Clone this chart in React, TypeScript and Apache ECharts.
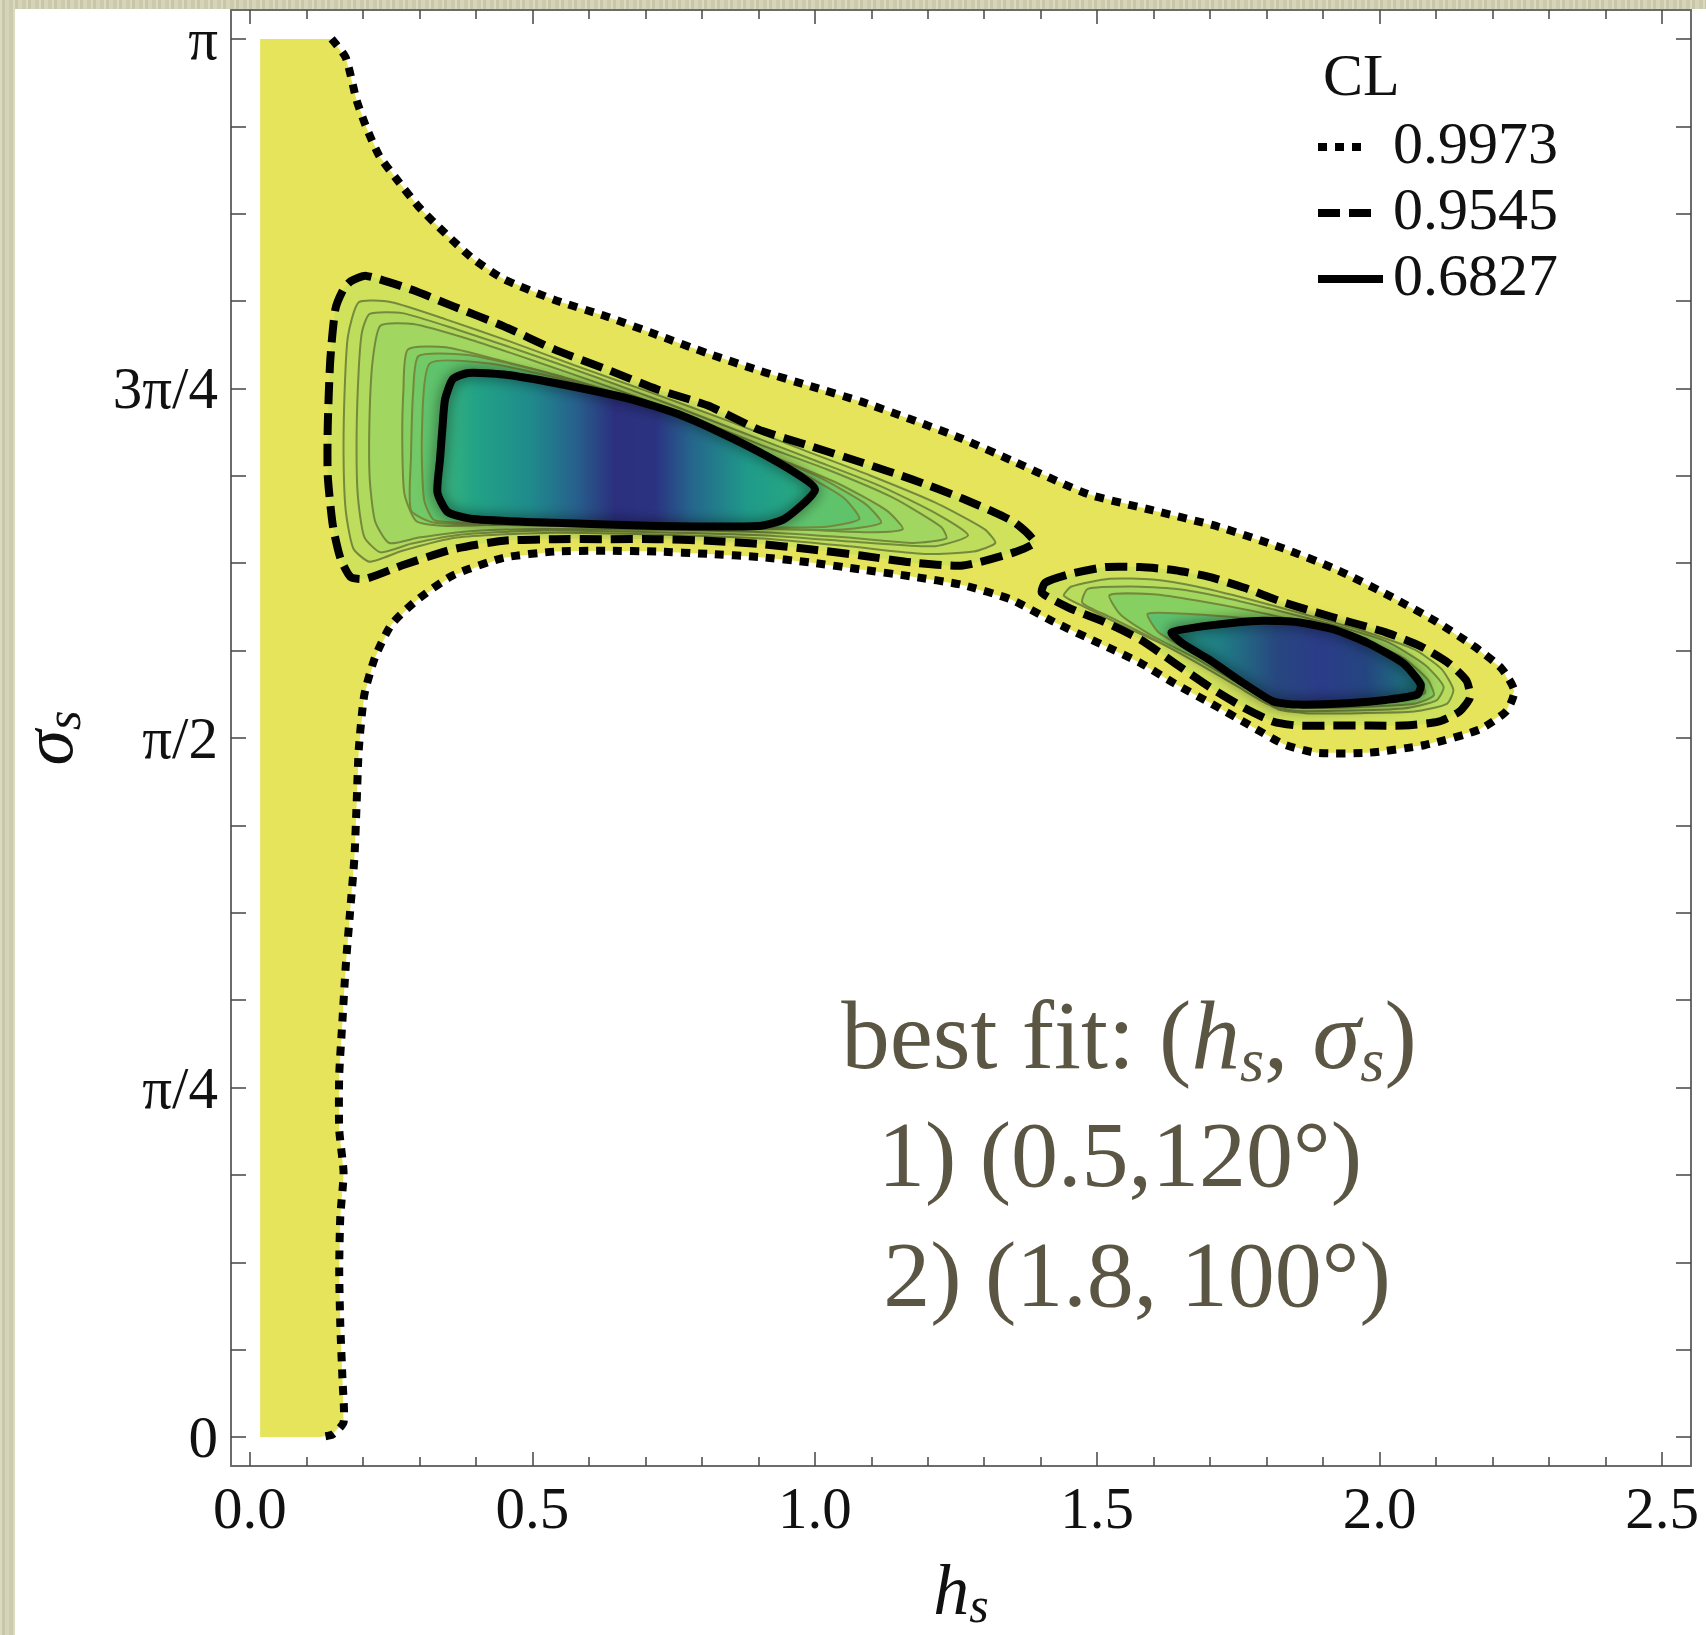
import React, { useEffect, useRef } from 'react';
import * as echarts from 'echarts';

// ---------- axes ----------
const xRange = [-0.0336, 2.5513];
const yRange = [-3.726, 183.726]; // degrees
const xMajorTicks = [0, 0.5, 1.0, 1.5, 2.0, 2.5];
const xMinorTicks = [0.1, 0.2, 0.3, 0.4, 0.6, 0.7, 0.8, 0.9, 1.1, 1.2, 1.3, 1.4, 1.6, 1.7, 1.8, 1.9, 2.1, 2.2, 2.3, 2.4];
const yTickValues = [0, 11.25, 22.5, 33.75, 45, 56.25, 67.5, 78.75, 90, 101.25, 112.5, 123.75, 135, 146.25, 157.5, 168.75, 180];
const yLabelValues = [0, 45, 90, 135, 180];
const yLabelTexts = ['0', 'π/4', 'π/2', '3π/4', 'π'];
const clLevels = ['0.9973', '0.9545', '0.6827'];
const legendTitle = 'CL';
const bestFitTitle = 'best fit: ({i|h}{sub|s}, {i|σ}{sub|s})';
const bestFit1 = '1) (0.5,120°)';
const bestFit2 = '2) (1.8, 100°)';

// ---------- contours: [h_s, sigma_s in degrees] ----------
const domainTop = [0.018, 180];
const domainBottom = [0.018, 0];

const contour9973 = [
  [0.1445, 180], [0.1695, 177.6], [0.1888, 172.1], [0.2061, 168.6], [0.2292, 164.9], [0.2601, 161.9],
  [0.2986, 158.4], [0.3467, 154.9], [0.3949, 151.7], [0.4488, 149.1], [0.5394, 146.4], [0.6299, 144.3],
  [0.7205, 141.9], [0.811, 139.5], [0.9015, 137.3], [0.9921, 135.3], [1.0826, 133.3], [1.1712, 131.0],
  [1.2618, 128.5], [1.3523, 125.6], [1.4833, 121.4], [1.5989, 119.3], [1.7145, 117.2], [1.8301, 114.4],
  [1.9264, 111.6], [2.0227, 108.1], [2.0998, 105.0], [2.1672, 101.8], [2.2153, 99.0], [2.2385, 96.1],
  [2.225, 93.5], [2.1769, 91.1], [2.0805, 89.1], [1.9803, 88.1], [1.8879, 88.1], [1.8301, 89.2],
  [1.7684, 91.7], [1.7029, 94.4], [1.6374, 97.0], [1.5758, 99.7], [1.5122, 101.9], [1.4217, 105.0],
  [1.3485, 107.8], [1.2618, 109.7], [1.1712, 110.8], [1.0807, 111.7], [0.9921, 112.6], [0.9015, 113.3],
  [0.811, 113.7], [0.7205, 114.0], [0.6299, 114.1], [0.5394, 114.0], [0.4488, 113.2], [0.3583, 110.9],
  [0.2947, 107.7], [0.2504, 104.6], [0.2215, 100.4], [0.2023, 95.5], [0.1926, 88.5], [0.1888, 81.5],
  [0.1849, 74.6], [0.1772, 67.6], [0.1695, 60.6], [0.1637, 53.6], [0.158, 46.6], [0.158, 39.6],
  [0.1657, 34.0], [0.1599, 28.4], [0.158, 21.5], [0.1599, 14.5], [0.1637, 7.5], [0.1657, 1.9],
  [0.1464, 0.35], [0.1252, 0]
];

const contour9545a = [
  [0.1784, 148.8], [0.2055, 149.5], [0.2868, 147.7], [0.3591, 145.6], [0.4494, 143.0], [0.5398, 140.0],
  [0.6301, 137.5], [0.7205, 134.9], [0.8106, 132.8], [0.901, 129.7], [0.9913, 127.6], [1.0817, 125.5],
  [1.172, 123.3], [1.2624, 120.8], [1.3527, 117.8], [1.389, 115.2], [1.3527, 113.9], [1.2624, 112.2],
  [1.172, 112.6], [1.0817, 113.5], [0.9913, 114.3], [0.901, 115.0], [0.8106, 115.4], [0.7205, 115.6],
  [0.6301, 115.6], [0.5398, 115.6], [0.4494, 115.4], [0.3591, 114.3], [0.2687, 112.2], [0.2055, 110.5],
  [0.1784, 110.7], [0.1603, 113.1], [0.1468, 117.3], [0.1377, 123.8], [0.1377, 130.2], [0.1422, 138.7],
  [0.1512, 145.2], [0.1649, 147.7]
];
const blob1Ring1 = [
  [0.1926, 146.1], [0.2504, 146.1], [0.3468, 143.9], [0.4623, 141.0], [0.5779, 137.9], [0.7128, 134.4],
  [0.8476, 130.8], [0.9825, 127.0], [1.098, 123.8], [1.2136, 120.3], [1.3003, 116.9], [1.3196, 115.1],
  [1.2811, 114.0], [1.1944, 113.7], [1.0595, 114.7], [0.9054, 115.7], [0.7128, 116.2], [0.5201, 116.4],
  [0.366, 115.8], [0.2697, 114.1], [0.2119, 112.7], [0.183, 114.4], [0.1695, 119.3], [0.1657, 126.3],
  [0.1676, 134.7], [0.1734, 141.7]
];
const blob1Ring1b = [
  [0.2119, 144.6], [0.2697, 144.7], [0.366, 142.6], [0.4816, 139.8], [0.6068, 136.6], [0.7417, 133.0],
  [0.8765, 129.2], [1.0017, 125.7], [1.1173, 122.4], [1.2175, 118.8], [1.2714, 116.1], [1.2136, 114.7],
  [1.098, 115.1], [0.9054, 116.1], [0.7128, 116.5], [0.5201, 116.7], [0.3756, 116.2], [0.2851, 115.0],
  [0.2312, 113.9], [0.2023, 115.9], [0.1907, 121.4], [0.1888, 129.1], [0.1926, 137.5], [0.1984, 142.3]
];
const blob1Ring2 = [
  [0.2312, 143.1], [0.289, 143.3], [0.3853, 141.4], [0.5009, 138.6], [0.6357, 135.2], [0.7706, 131.6],
  [0.9054, 127.7], [1.021, 124.6], [1.1366, 121.0], [1.2233, 117.2], [1.2329, 115.7], [1.1751, 115.1],
  [1.0595, 115.8], [0.9054, 116.5], [0.7128, 116.8], [0.5201, 116.9], [0.3853, 116.6], [0.2986, 115.8],
  [0.2466, 115.1], [0.2215, 117.9], [0.2119, 123.5], [0.2119, 131.9], [0.2177, 138.9]
];
const blob1Ring3 = [
  [0.2793, 140.0], [0.3468, 140.3], [0.4431, 138.6], [0.5587, 136.4], [0.6935, 133.3], [0.8091, 129.9],
  [0.9247, 126.3], [1.0403, 122.8], [1.1269, 119.3], [1.1558, 116.9], [1.098, 116.5], [0.9825, 116.8],
  [0.8091, 117.1], [0.6357, 117.3], [0.4623, 117.5], [0.3468, 117.3], [0.2947, 117.9], [0.2735, 121.4],
  [0.2697, 127.7], [0.2716, 134.7]
];
const blob1Ring3b = [
  [0.2986, 139.2], [0.3853, 139.3], [0.5009, 137.5], [0.6261, 134.8], [0.7513, 131.6], [0.8861, 127.4],
  [1.0017, 123.8], [1.0884, 120.2], [1.1173, 117.7], [1.0403, 116.8], [0.9054, 117.0], [0.7128, 117.1],
  [0.4816, 117.4], [0.3275, 117.7], [0.2851, 119.3], [0.2851, 126.3], [0.289, 134.7]
];
const blob1Ring4 = [
  [0.3179, 138.2], [0.4238, 138.2], [0.5587, 136.1], [0.7128, 132.6], [0.8476, 128.4], [0.9632, 124.6],
  [1.0499, 121.0], [1.0788, 118.2], [1.021, 117.2], [0.9054, 117.1], [0.7128, 117.2], [0.4816, 117.6],
  [0.3275, 118.0], [0.3082, 120.7], [0.3044, 129.1]
];
const contour6827a = [
  [0.3865, 137.0], [0.4494, 136.8], [0.5398, 135.7], [0.6752, 133.6], [0.7655, 131.5], [0.8559, 128.5],
  [0.9462, 125.0], [1.0004, 122.0], [0.9462, 118.2], [0.901, 117.3], [0.7205, 117.3], [0.5398, 117.7],
  [0.3951, 118.2], [0.35, 119.1], [0.3319, 121.6], [0.3365, 125.9], [0.341, 130.2], [0.3454, 133.6],
  [0.3591, 136.2]
];

const contour9545b = [
  [1.4082, 110.0], [1.4517, 111.1], [1.5138, 112.0], [1.5758, 112.0], [1.638, 111.6], [1.7003, 110.7],
  [1.7623, 109.3], [1.8243, 107.6], [1.8865, 106.2], [1.9487, 104.9], [2.0108, 103.6], [2.0728, 101.8],
  [2.1227, 99.6], [2.1537, 97.4], [2.1599, 95.2], [2.1412, 93.4], [2.104, 92.1], [2.042, 91.6],
  [1.9798, 91.6], [1.9177, 91.6], [1.8555, 91.6], [1.812, 92.1], [1.7623, 93.8], [1.7003, 96.5],
  [1.638, 99.6], [1.5758, 102.7], [1.5138, 104.9], [1.4517, 106.7], [1.402, 108.7]
];
const blob2Ring1 = [
  [1.441, 108.3], [1.4544, 109.5], [1.5219, 110.5], [1.5989, 110.4], [1.676, 109.5], [1.7723, 107.8],
  [1.8686, 105.9], [1.9649, 103.9], [2.0612, 101.4], [2.1094, 98.9], [2.1306, 96.2], [2.119, 94.4],
  [2.0612, 93.4], [1.9649, 93.2], [1.8686, 93.2], [1.8204, 93.7], [1.7627, 96.1], [1.6952, 99.0],
  [1.6182, 102.0], [1.5411, 104.6], [1.4737, 107.0]
];
const blob2Ring1b = [
  [1.4833, 109.2], [1.5604, 109.5], [1.6374, 109.2], [1.7241, 108.1], [1.8204, 106.4], [1.9168, 104.6],
  [2.0131, 102.4], [2.0805, 99.4], [2.1133, 96.6], [2.0998, 94.8], [2.042, 93.8], [1.9264, 93.5],
  [1.8493, 93.5], [1.8012, 94.4], [1.7492, 96.6], [1.676, 99.7], [1.5989, 102.8], [1.5219, 105.6],
  [1.4737, 107.4]
];
const blob2Ring2 = [
  [1.5219, 108.4], [1.5989, 108.5], [1.676, 107.7], [1.7723, 106.4], [1.8686, 104.8], [1.9649, 102.8],
  [2.042, 100.3], [2.0844, 97.6], [2.0959, 95.5], [2.0612, 94.4], [1.9649, 94.0], [1.8686, 93.9],
  [1.8108, 94.7], [1.753, 96.9], [1.676, 100.2], [1.5989, 103.1], [1.5411, 105.9]
];
const blob2Ring3 = [
  [1.5893, 106.0], [1.6567, 106.0], [1.7338, 105.6], [1.8301, 104.9], [1.9264, 103.5], [2.0131, 101.1],
  [2.0612, 98.3], [2.0805, 95.8], [2.0227, 94.7], [1.8686, 94.1], [1.8012, 94.8], [1.7434, 97.6],
  [1.6664, 101.1], [1.6086, 103.6]
];
const contour6827b = [
  [1.6319, 103.6], [1.7003, 104.5], [1.7935, 105.1], [1.8555, 104.9], [1.9177, 104.0], [1.9798, 102.2],
  [2.042, 99.6], [2.0728, 96.9], [2.0668, 95.6], [2.0108, 94.9], [1.9487, 94.5], [1.8555, 94.3],
  [1.812, 94.7], [1.7623, 96.9], [1.7003, 100.0], [1.6505, 102.2]
];

// ---------- styles ----------
const SERIF = '"Liberation Serif", "Times New Roman", serif';
const YELLOW = '#e6e45b';
const OLIVE = '#74893b';
const ANNOT = '#5b5543';
const DOTTED = [9, 8];
const DASHED = [22, 9];

function shapeSeries(pts: number[][], kind: 'polygon' | 'polyline', style: any, z: number, smooth = 0.2) {
  return {
    type: 'custom',
    coordinateSystem: 'cartesian2d',
    xAxisIndex: 0,
    yAxisIndex: 0,
    silent: true,
    z,
    data: pts,
    renderItem: (params: any, api: any) => {
      if (params.dataIndex !== 0) return null;
      return {
        type: kind,
        shape: { points: pts.map((p) => api.coord(p)), smooth },
        style,
      };
    },
  };
}

function xAxisDef(position: string, major: boolean, withLabels: boolean, showLine: boolean) {
  return {
    type: 'value',
    position,
    min: xRange[0],
    max: xRange[1],
    splitLine: { show: false },
    axisLine: { show: showLine, onZero: false, lineStyle: { color: '#6c6c6c', width: 2 } },
    axisTick: {
      show: true,
      inside: true,
      length: major ? 14 : 9,
      customValues: major ? xMajorTicks : xMinorTicks,
      lineStyle: { color: '#444', width: 1.5 },
    },
    axisLabel: withLabels
      ? {
          show: true,
          customValues: xMajorTicks,
          formatter: (v: number) => v.toFixed(1),
          margin: 12,
          fontFamily: SERIF,
          fontSize: 59,
          color: '#111',
        }
      : { show: false },
  };
}

function yAxisDef(position: string, withLabels: boolean) {
  return {
    type: 'value',
    position,
    min: yRange[0],
    max: yRange[1],
    splitLine: { show: false },
    axisLine: { show: true, onZero: false, lineStyle: { color: '#6c6c6c', width: 2 } },
    axisTick: {
      show: true,
      inside: true,
      length: 15,
      customValues: yTickValues,
      lineStyle: { color: '#444', width: 1.5 },
    },
    axisLabel: withLabels
      ? {
          show: true,
          customValues: yLabelValues,
          formatter: (v: number) => {
            const i = yLabelValues.findIndex((t) => Math.abs(t - v) < 1e-6);
            return i >= 0 ? yLabelTexts[i] : '';
          },
          margin: 13,
          fontFamily: SERIF,
          fontSize: 59,
          color: '#111',
        }
      : { show: false },
  };
}

export default function App() {
  const ref = useRef<HTMLDivElement>(null);

  useEffect(() => {
    if (!ref.current) return;
    const chart = echarts.init(ref.current, null, { renderer: 'svg' });

    const grad1 = new echarts.graphic.LinearGradient(0, 0, 1, 0, [
      { offset: 0, color: '#3db57a' },
      { offset: 0.1, color: '#22a386' },
      { offset: 0.25, color: '#1f8a8c' },
      { offset: 0.37, color: '#275f8c' },
      { offset: 0.47, color: '#2b2f7e' },
      { offset: 0.58, color: '#2b3482' },
      { offset: 0.67, color: '#25648c' },
      { offset: 0.82, color: '#1f9a8a' },
      { offset: 1, color: '#2aae80' },
    ]);
    const grad2 = new echarts.graphic.LinearGradient(0, 0, 1, 0, [
      { offset: 0, color: '#279a84' },
      { offset: 0.2, color: '#1f7d86' },
      { offset: 0.42, color: '#27477f' },
      { offset: 0.6, color: '#2b3b88' },
      { offset: 0.78, color: '#244580' },
      { offset: 0.92, color: '#1f6a80' },
      { offset: 1, color: '#1e7f82' },
    ]);

    const ringStyle = (fill: string) => ({ fill, stroke: OLIVE, lineWidth: 2 });
    const yellowRegion = [domainTop, ...contour9973, domainBottom];

    const series = [
      shapeSeries(yellowRegion, 'polygon', { fill: YELLOW, stroke: null }, 1, 0),
      shapeSeries(contour9545a, 'polygon', { fill: '#d0e15c', stroke: null }, 2),
      shapeSeries(blob1Ring1, 'polygon', ringStyle('#bfdd5d'), 3),
      shapeSeries(blob1Ring1b, 'polygon', ringStyle('#b0da5e'), 3),
      shapeSeries(blob1Ring2, 'polygon', ringStyle('#a1d760'), 3),
      shapeSeries(blob1Ring3, 'polygon', ringStyle('#86d063'), 3),
      shapeSeries(blob1Ring3b, 'polygon', ringStyle('#72c967'), 3),
      shapeSeries(blob1Ring4, 'polygon', ringStyle('#5fc36c'), 3),
      shapeSeries(contour6827a, 'polygon', { fill: grad1, stroke: null }, 4),
      shapeSeries(contour9545b, 'polygon', { fill: '#cfe05c', stroke: null }, 2),
      shapeSeries(blob2Ring1, 'polygon', ringStyle('#b8dc5d'), 3),
      shapeSeries(blob2Ring1b, 'polygon', ringStyle('#a2d75f'), 3),
      shapeSeries(blob2Ring2, 'polygon', ringStyle('#86d062'), 3),
      shapeSeries(blob2Ring3, 'polygon', ringStyle('#5ec16d'), 3),
      shapeSeries(contour6827b, 'polygon', { fill: grad2, stroke: null }, 4),
      shapeSeries(contour9973, 'polyline', { fill: null, stroke: '#000', lineWidth: 8, lineDash: DOTTED, lineCap: 'butt' }, 10, 0.2),
      shapeSeries(contour9545a, 'polygon', { fill: null, stroke: '#000', lineWidth: 8, lineDash: DASHED }, 10),
      shapeSeries(contour9545b, 'polygon', { fill: null, stroke: '#000', lineWidth: 8, lineDash: DASHED }, 10),
      shapeSeries(contour6827a, 'polygon', { fill: null, stroke: '#000', lineWidth: 8, shadowBlur: 14, shadowColor: 'rgba(0,0,0,0.6)' }, 10),
      shapeSeries(contour6827b, 'polygon', { fill: null, stroke: '#000', lineWidth: 8, shadowBlur: 14, shadowColor: 'rgba(0,0,0,0.6)' }, 10),
    ];

    const legendY = [147, 213, 279];
    const legendDash = [DOTTED, DASHED, null];
    const legendEnd = [1368, 1373, 1383];

    const graphic: any[] = [
      {
        type: 'text', x: 1323, y: 75, z: 50,
        style: { text: legendTitle, fontFamily: SERIF, fontSize: 60, fill: '#111', verticalAlign: 'middle' },
      },
    ];
    clLevels.forEach((lab, i) => {
      graphic.push({
        type: 'line', z: 50,
        shape: { x1: 1318, y1: legendY[i], x2: legendEnd[i], y2: legendY[i] },
        style: { stroke: '#000', lineWidth: 8, lineDash: legendDash[i] || undefined },
      });
      graphic.push({
        type: 'text', x: 1393, y: legendY[i] - 4, z: 50,
        style: { text: lab, fontFamily: SERIF, fontSize: 60, fill: '#111', verticalAlign: 'middle' },
      });
    });
    graphic.push({
      type: 'text', x: 1129, y: 979, z: 50,
      style: {
        text: bestFitTitle, fontFamily: SERIF, fontSize: 97, lineHeight: 112, fill: ANNOT,
        align: 'center', verticalAlign: 'top',
        rich: {
          i: { fontFamily: SERIF, fontSize: 97, fontStyle: 'italic', lineHeight: 112, fill: ANNOT },
          sub: { fontFamily: SERIF, fontSize: 62, fontStyle: 'italic', lineHeight: 62, fill: ANNOT, verticalAlign: 'bottom' },
        },
      },
    });
    graphic.push({
      type: 'text', x: 1120, y: 1154, z: 50,
      style: { text: bestFit1, fontFamily: SERIF, fontSize: 94, fill: ANNOT, align: 'center', verticalAlign: 'middle' },
    });
    graphic.push({
      type: 'text', x: 1137, y: 1274, z: 50,
      style: { text: bestFit2, fontFamily: SERIF, fontSize: 94, fill: ANNOT, align: 'center', verticalAlign: 'middle' },
    });

    const nameRich = {
      i: { fontFamily: SERIF, fontSize: 72, fontStyle: 'italic', lineHeight: 80, color: '#111' },
      sub: { fontFamily: SERIF, fontSize: 50, fontStyle: 'italic', lineHeight: 50, color: '#111', verticalAlign: 'bottom' },
    };

    const xMain: any = xAxisDef('bottom', true, true, true);
    xMain.name = '{i|h}{sub|s}';
    xMain.nameLocation = 'middle';
    xMain.nameGap = 84;
    xMain.nameTextStyle = { rich: nameRich };

    const yMain: any = yAxisDef('left', true);
    yMain.name = '{i|σ}{sub|s}';
    yMain.nameLocation = 'middle';
    yMain.nameGap = 143;
    yMain.nameRotate = 90;
    yMain.nameTextStyle = { rich: nameRich };

    chart.setOption({
      animation: false,
      backgroundColor: 'transparent',
      grid: { left: 231, right: 15, top: 10, bottom: 166, containLabel: false },
      xAxis: [
        xMain,
        xAxisDef('bottom', false, false, false),
        xAxisDef('top', true, false, true),
        xAxisDef('top', false, false, false),
      ],
      yAxis: [yMain, yAxisDef('right', false)],
      series,
      graphic,
    });

    return () => chart.dispose();
  }, []);

  return (
    <div
      style={{
        position: 'absolute', left: 0, top: 0, width: 1706, height: 1635, overflow: 'hidden',
        backgroundColor: '#d3d1b2',
        backgroundImage:
          'repeating-linear-gradient(90deg, rgba(255,255,255,0.18) 0px, rgba(255,255,255,0.18) 2px, rgba(0,0,0,0.05) 2px, rgba(0,0,0,0.05) 5px, rgba(255,255,255,0.08) 5px, rgba(255,255,255,0.08) 9px, rgba(0,0,0,0.03) 9px, rgba(0,0,0,0.03) 13px)',
      }}
    >
      <div style={{ position: 'absolute', left: 15, top: 9, width: 1691, height: 1626, background: '#ffffff' }} />
      <div ref={ref} style={{ position: 'absolute', left: 0, top: 0, width: 1706, height: 1635 }} />
    </div>
  );
}
